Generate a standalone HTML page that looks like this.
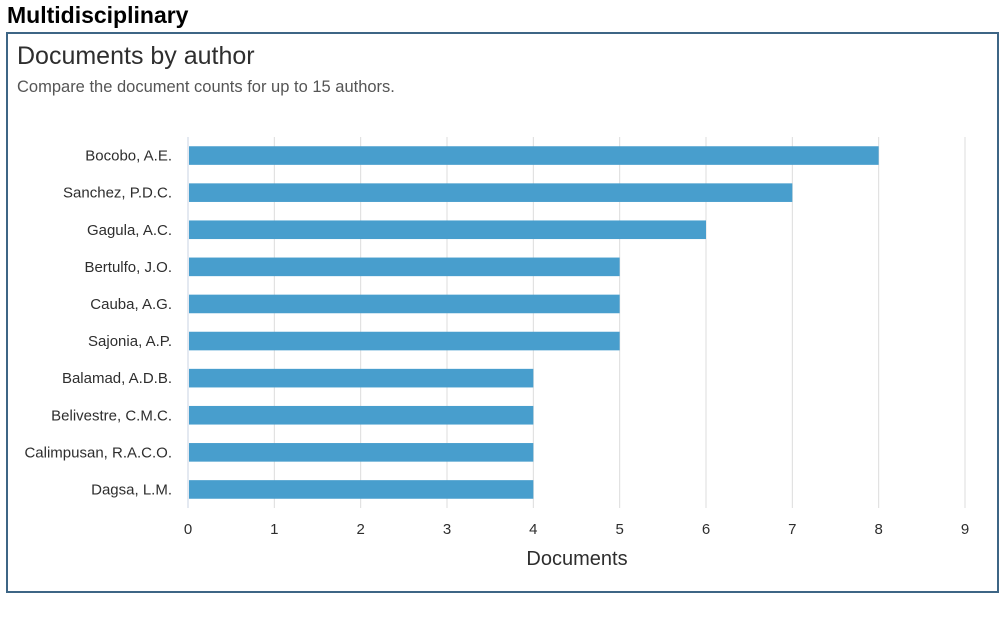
<!DOCTYPE html>
<html><head><meta charset="utf-8"><style>
body{margin:0;width:1008px;height:622px;background:#fff;overflow:hidden;font-family:"Liberation Sans",sans-serif}
#h{position:absolute;left:7px;top:2px;font-size:23px;font-weight:bold;color:#000;margin:0}
#frame{position:absolute;left:6px;top:32px;width:989px;height:557px;border:2px solid #3d6585}
svg{position:absolute;left:0;top:0}
</style></head><body>
<h1 id="h">Multidisciplinary</h1>
<div id="frame"></div>
<svg id="c" width="1008" height="622">
<text x="17" y="64" font-size="25" fill="#2e2e2e">Documents by author</text>
<text x="17" y="92" font-size="16.5" fill="#555">Compare the document counts for up to 15 authors.</text>
<text x="577" y="565" font-size="20" fill="#2e2e2e" text-anchor="middle">Documents</text>
</svg>
<script>
const authors=["Bocobo, A.E.","Sanchez, P.D.C.","Gagula, A.C.","Bertulfo, J.O.","Cauba, A.G.","Sajonia, A.P.","Balamad, A.D.B.","Belivestre, C.M.C.","Calimpusan, R.A.C.O.","Dagsa, L.M."];
const docs=[8,7,6,5,5,5,4,4,4,4];
const ticks=[0,1,2,3,4,5,6,7,8,9];
const svgEl=document.getElementById('c');const NS='http://www.w3.org/2000/svg';
const x0=188,x1=965,xmax=9,plotTop=137,plotBot=508;
const X=v=>x0+(x1-x0)*v/xmax;
const band=(plotBot-plotTop)/authors.length;
const Y=i=>plotTop+band*i+band/2;
function mk(t,a){const e=document.createElementNS(NS,t);for(const k in a)e.setAttribute(k,a[k]);svgEl.appendChild(e);return e;}
ticks.forEach(t=>{
 const l=mk('line',{x1:X(t),x2:X(t),y1:plotTop,y2:plotBot,stroke:t===0?'#c8d3e3':'#dcdcdc','stroke-width':1});
 
 
 const tx=mk('text',{x:X(t),y:534,'font-size':15,fill:'#2e2e2e','text-anchor':'middle'});tx.textContent=t;
 
 
});
authors.forEach((a,i)=>{
 const r=mk('rect',{x:X(0)+1,y:Y(i)-9.3,width:X(docs[i])-X(0)-1,height:18.6,fill:'#489ecd'});
 
 
 const tx=mk('text',{x:172,y:Y(i)+5,'font-size':15,fill:'#2e2e2e','text-anchor':'end'});tx.textContent=a;
 
 
});
</script>
</body></html>
